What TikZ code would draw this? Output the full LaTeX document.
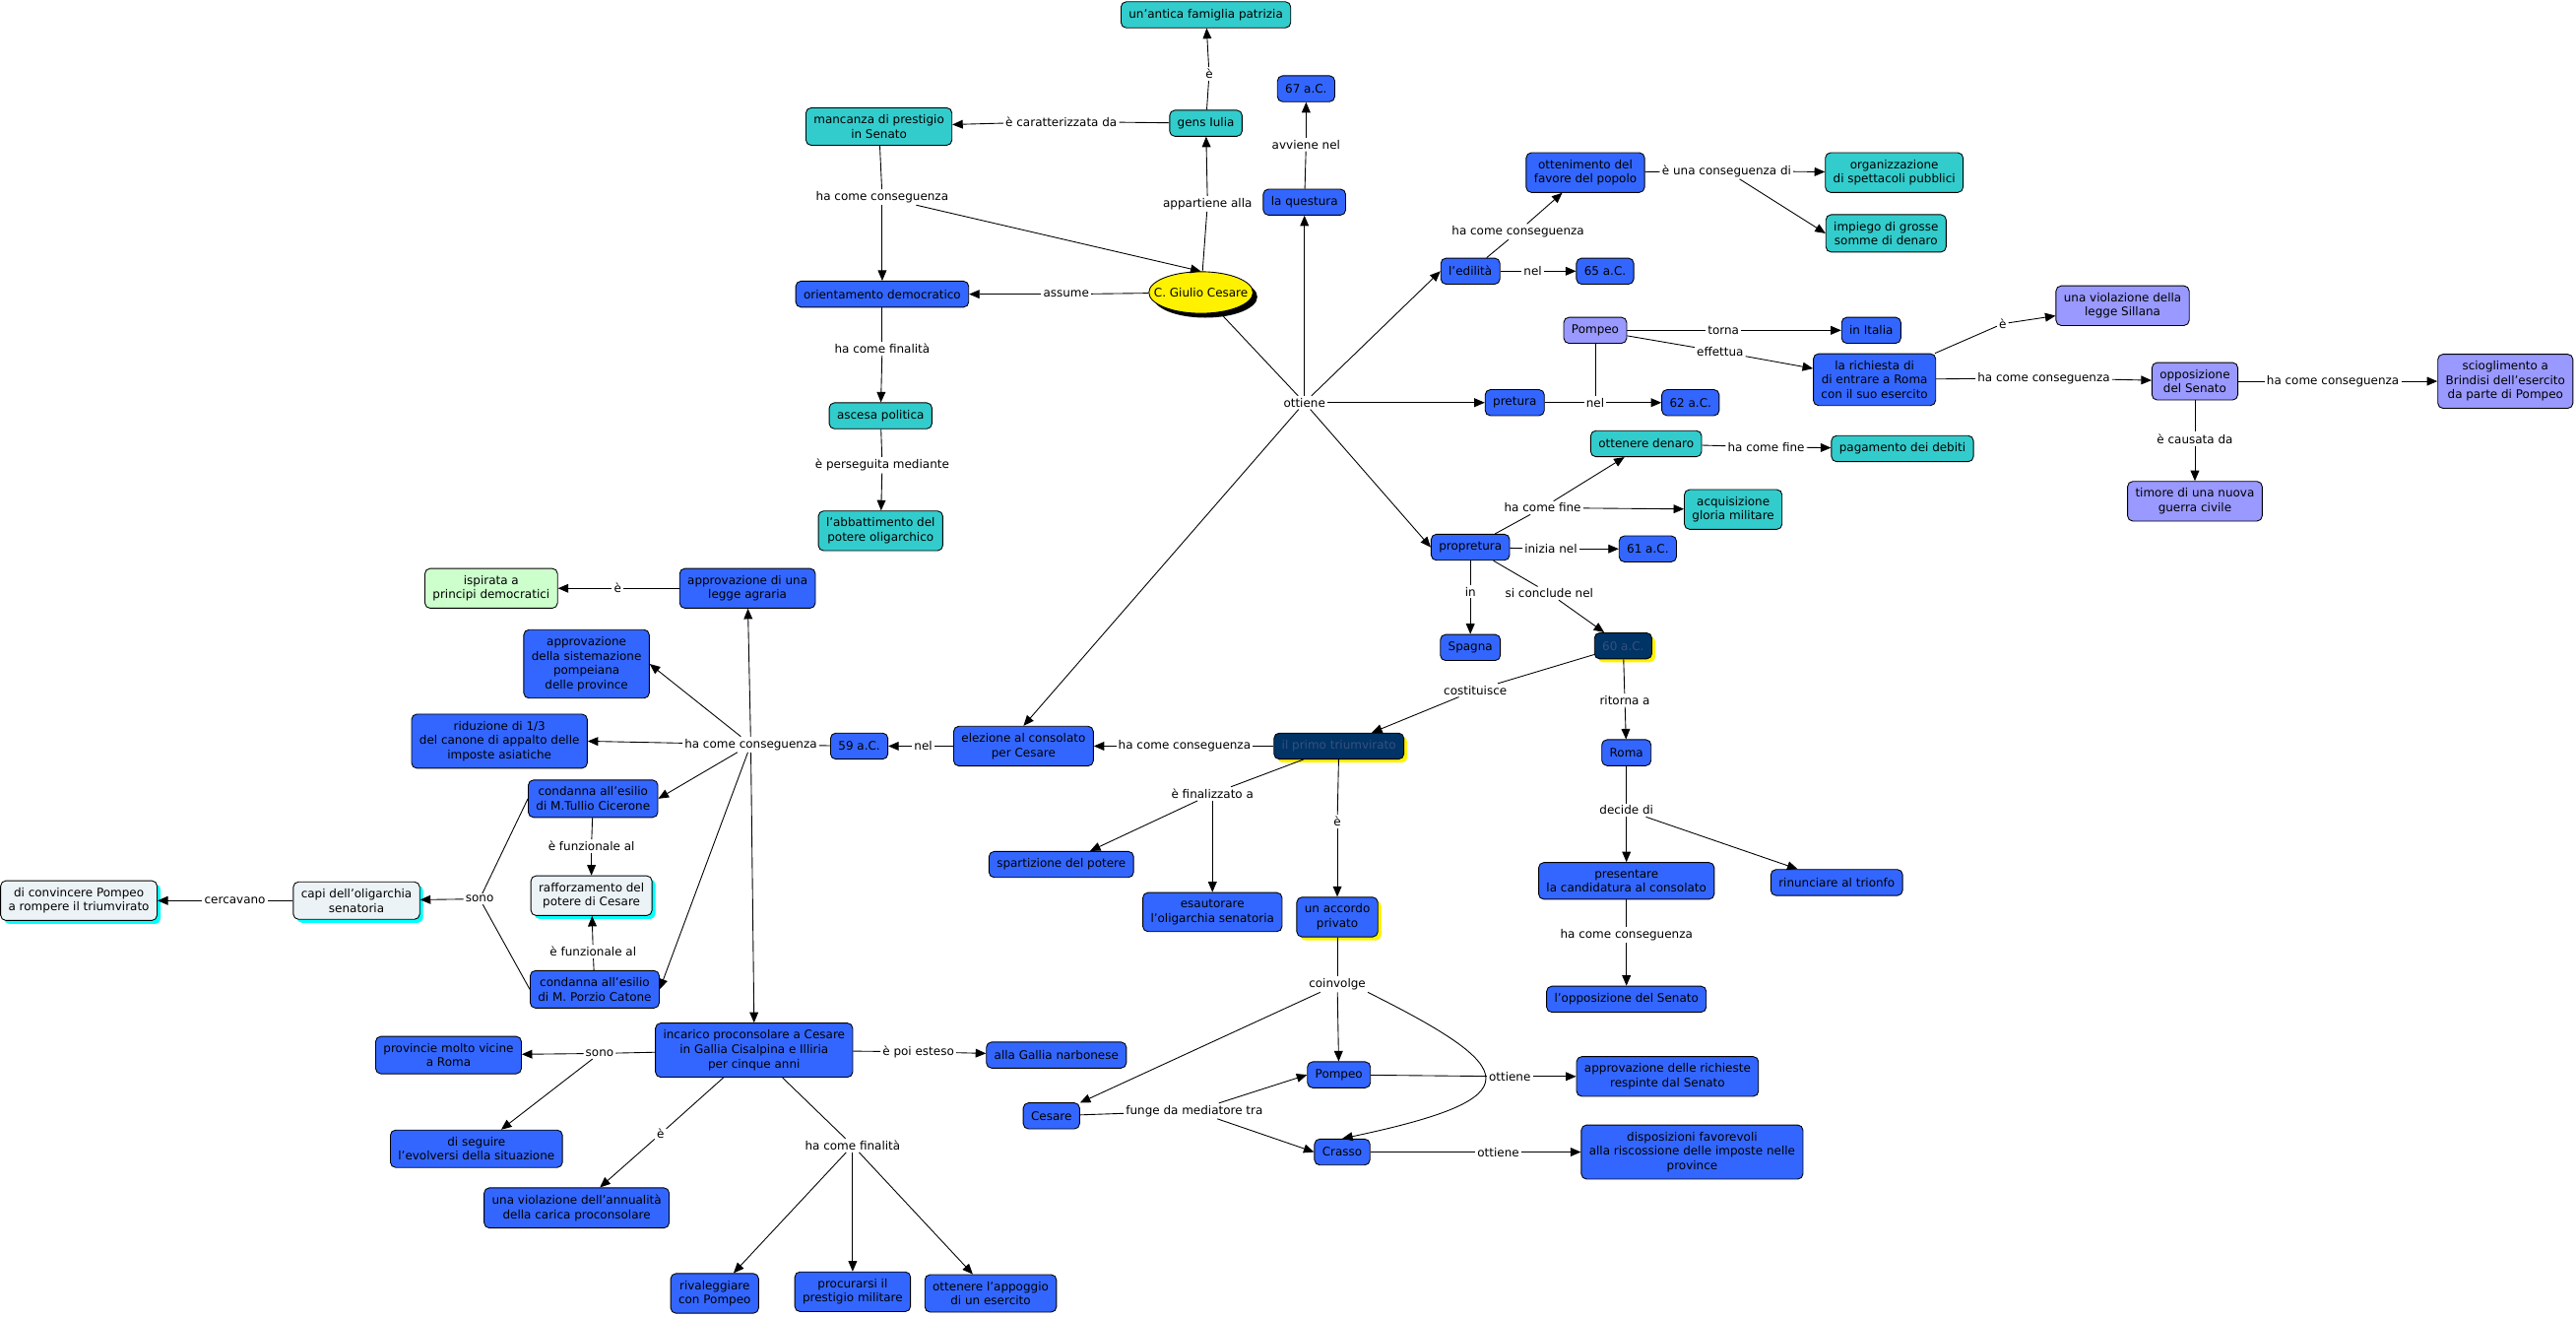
\documentclass[tikz,border=0pt]{standalone}
\usepackage{fontspec}
\setmainfont{DejaVu Sans}
\usepackage{tikz}
\usetikzlibrary{arrows.meta,shapes.geometric,shadows}
\definecolor{mapblue}{RGB}{51,102,255}
\definecolor{mapteal}{RGB}{51,204,204}
\definecolor{maplav}{RGB}{153,153,255}
\definecolor{mapnavy}{RGB}{0,51,102}
\definecolor{navytext}{RGB}{55,80,125}
\definecolor{mapgreen}{RGB}{204,255,204}
\definecolor{maplight}{RGB}{236,243,246}
\definecolor{mapcyan}{RGB}{0,255,255}
\newcommand{\mapfont}{\fontsize{6.8}{8.3}\selectfont}

\begin{document}
\begin{tikzpicture}[x=0.0333cm, y=-0.0333cm, line width=0.5pt,
  box/.style={rectangle, draw, rounded corners=3pt, align=center, font=\mapfont,
              inner xsep=4.5pt, inner ysep=4pt, minimum height=15pt},
  cb/.style={box, fill=mapblue},
  ct/.style={box, fill=mapteal},
  cl/.style={box, fill=maplav},
  cg/.style={box, fill=mapgreen},
  cw/.style={box, fill=maplight,
             drop shadow={shadow xshift=2pt, shadow yshift=-2pt, fill=mapcyan, opacity=1}},
  cn/.style={box, fill=mapnavy, text=navytext,
             drop shadow={shadow xshift=2pt, shadow yshift=-2pt, fill=yellow, opacity=1}},
  cy/.style={cb, drop shadow={shadow xshift=2pt, shadow yshift=-2pt, fill=yellow, opacity=1}},
  cesell/.style={ellipse, draw, fill=yellow, font=\mapfont, inner sep=0pt,
                 minimum width=60pt, minimum height=24pt,
                 drop shadow={shadow xshift=2.5pt, shadow yshift=-2.5pt, fill=black, opacity=1}},
  lbl/.style={fill=white, inner sep=1pt, font=\mapfont},
  arr/.style={-{Triangle[length=6pt, width=5pt]}}
]
\useasboundingbox (0,0) rectangle (1568,801);

% ── Cesare and his origins ───────────────────
\node[cesell] (cesare) at (731,178) {\makebox[0pt]{C. Giulio Cesare}};
\node[ct] (antica)   at (734,9)   {un'antica famiglia patrizia};
\node[ct] (gens)     at (734,75)  {gens Iulia};
\node[ct] (mancanza) at (535,77)  {mancanza di prestigio\\in Senato};
\node[cb] (orient)   at (537,179) {orientamento democratico};
\node[ct] (ascesa)   at (536,253) {ascesa politica};
\node[ct] (abbatt)   at (536,323) {l'abbattimento del\\potere oligarchico};

% ── cursus honorum ───────────────────────────
\node[cb] (a67)      at (795,54)   {67 a.C.};
\node[cb] (questura) at (794,123)  {la questura};
\node[cb] (edilita)  at (895,165)  {l'edilità};
\node[cb] (a65)      at (977,165)  {65 a.C.};
\node[cb] (favore)   at (965,105)  {ottenimento del\\favore del popolo};
\node[ct] (organizz) at (1153,105) {organizzazione\\di spettacoli pubblici};
\node[ct] (impiego)  at (1148,142) {impiego di grosse\\somme di denaro};
\node[cb] (pretura)  at (922,245)  {pretura};
\node[cb] (a62)      at (1029,245) {62 a.C.};
\node[cb] (propret)  at (895,333)  {propretura};
\node[cb] (a61)      at (1003,334) {61 a.C.};
\node[ct] (denaro)   at (1002,270) {ottenere denaro};
\node[ct] (debiti)   at (1158,273) {pagamento dei debiti};
\node[ct] (gloria)   at (1055,310) {acquisizione\\gloria militare};
\node[cb] (spagna)   at (895,394)  {Spagna};
\node[cn] (a60)      at (988,393)  {60 a.C.};
\node[cb] (roma)     at (990,458)  {Roma};
\node[cb] (candid)   at (990,536)  {presentare\\la candidatura al consolato};
\node[cb] (trionfo)  at (1118,537) {rinunciare al trionfo};
\node[cb] (oppsen)   at (990,608)  {l'opposizione del Senato};

% ── Pompeo ───────────────────────────────────
\node[cl] (pompeoA)  at (971,201)  {Pompeo};
\node[cb] (italia)   at (1139,201) {in Italia};
\node[cb] (richiesta) at (1141,231) {la richiesta di\\di entrare a Roma\\con il suo esercito};
\node[cl] (sillana)  at (1292,186) {una violazione della\\legge Sillana};
\node[cl] (opposiz)  at (1336,232) {opposizione\\del Senato};
\node[cl] (sciogl)   at (1525,232) {scioglimento  a\\Brindisi dell'esercito\\da parte di Pompeo};
\node[cl] (timore)   at (1336,305) {timore di una nuova\\guerra civile};

% ── triumvirato ──────────────────────────────
\node[cn] (triumv)   at (815,454)  {il primo triumvirato};
\node[cb] (elezione) at (623,454)  {elezione al consolato\\per Cesare};
\node[cb] (a59)      at (523,454)  {59 a.C.};
\node[cb] (spartiz)  at (646,526)  {spartizione del potere};
\node[cb] (esautor)  at (738,555)  {esautorare\\l'oligarchia senatoria};
\node[cy] (accordo)  at (814,558)  {un accordo\\privato};
\node[cb] (cesareB)  at (640,679)  {Cesare};
\node[cb] (pompeoB)  at (815,654)  {Pompeo};
\node[cb] (crasso)   at (817,701)  {Crasso};
\node[cb] (respinte) at (1015,655) {approvazione delle richieste\\respinte dal Senato};
\node[cb] (disposiz) at (1030,701) {disposizioni favorevoli\\alla riscossione delle imposte nelle\\province};

% ── consolato ────────────────────────────────
\node[cb] (agraria)  at (455,358)  {approvazione di una\\legge agraria};
\node[cg] (ispirata) at (299,358)  {ispirata a\\principi democratici};
\node[cb] (sistem)   at (357,404)  {approvazione\\della sistemazione\\pompeiana\\delle province};
\node[cb] (riduz)    at (304,451)  {riduzione di 1/3\\del canone di appalto delle\\imposte asiatiche};
\node[cb] (cicerone) at (361,486)  {condanna all'esilio\\di M.Tullio Cicerone};
\node[cw] (rafforz)  at (360,545)  {rafforzamento del\\potere di Cesare};
\node[cb] (catone)   at (362,602)  {condanna all'esilio\\di M. Porzio Catone};
\node[cw] (capi)     at (217,548)  {capi dell'oligarchia\\senatoria};
\node[cw] (convinc)  at (48,548)   {di convincere Pompeo\\a rompere il triumvirato};
\node[cb] (incarico) at (459,639)  {incarico proconsolare a Cesare\\in Gallia Cisalpina e Illiria\\per  cinque anni};
\node[cb] (narbon)   at (643,642)  {alla Gallia narbonese};
\node[cb] (vicine)   at (273,642)  {provincie molto vicine\\a Roma};
\node[cb] (seguire)  at (290,699)  {di seguire\\l'evolversi della situazione};
\node[cb] (annual)   at (351,735)  {una violazione dell'annualità\\della carica proconsolare};
\node[cb] (rivaleg)  at (435,787)  {rivaleggiare\\con Pompeo};
\node[cb] (procur)   at (519,786)  {procurarsi il\\prestigio militare};
\node[cb] (appoggio) at (603,787)  {ottenere l'appoggio\\di un esercito};

% ── links: Cesare ────────────────────────────
\node[lbl] (lE1) at (736,45) {è};
\draw (gens) -- (lE1); \draw[arr] (lE1) -- (antica);
\node[lbl] (lCar) at (646,74) {è caratterizzata da};
\draw (gens) -- (lCar); \draw[arr] (lCar) -- (mancanza);
\node[lbl] (lApp) at (735,124) {appartiene alla};
\draw (cesare) -- (lApp); \draw[arr] (lApp) -- (gens);
\node[lbl] (lHcc1) at (537,120) {ha come conseguenza};
\draw (mancanza) -- (lHcc1);
\draw[arr] (lHcc1) -- (orient);
\draw[arr] (lHcc1) -- (cesare.north);
\node[lbl] (lAss) at (649,179) {assume};
\draw (cesare) -- (lAss); \draw[arr] (lAss) -- (orient);
\node[lbl] (lFin1) at (537,212) {ha come finalità};
\draw (orient) -- (lFin1); \draw[arr] (lFin1) -- (ascesa);
\node[lbl] (lPers) at (537,283) {è perseguita mediante};
\draw (ascesa) -- (lPers); \draw[arr] (lPers) -- (abbatt);

% ── links: ottiene ───────────────────────────
\node[lbl] (lOtt) at (794,245) {ottiene};
\draw (cesare) -- (lOtt);
\foreach \t in {questura, edilita.west, pretura, propret.west, elezione.north}
  \draw[arr] (lOtt) -- (\t);
\node[lbl] (lAvv) at (795,88) {avviene nel};
\draw (questura) -- (lAvv); \draw[arr] (lAvv) -- (a67);
\node[lbl] (lNel1) at (933,165) {nel};
\draw (edilita) -- (lNel1); \draw[arr] (lNel1) -- (a65);
\node[lbl] (lHcc2) at (924,141) {ha come conseguenza};
\draw (edilita) -- (lHcc2); \draw[arr] (lHcc2) -- (favore);
\node[lbl] (lCons) at (1051,104) {è una conseguenza di};
\draw (favore) -- (lCons);
\draw[arr] (lCons) -- (organizz);
\draw[arr] (lCons) -- (impiego.west);
\node[lbl] (lNel2) at (971,245) {nel};
\draw (pretura) -- (lNel2); \draw (pompeoA) -- (lNel2);
\draw[arr] (lNel2) -- (a62);

% ── links: Pompeo ────────────────────────────
\node[lbl] (lTorna) at (1049,201) {torna};
\draw (pompeoA) -- (lTorna); \draw[arr] (lTorna) -- (italia);
\node[lbl] (lEff) at (1047,214) {effettua};
\draw (pompeoA) -- (lEff); \draw[arr] (lEff) -- (richiesta);
\node[lbl] (lE2) at (1219,197) {è};
\draw (richiesta) -- (lE2); \draw[arr] (lE2) -- (sillana);
\node[lbl] (lHcc3) at (1244,230) {ha come conseguenza};
\draw (richiesta) -- (lHcc3); \draw[arr] (lHcc3) -- (opposiz);
\node[lbl] (lHcc4) at (1420,232) {ha come conseguenza};
\draw (opposiz) -- (lHcc4); \draw[arr] (lHcc4) -- (sciogl);
\node[lbl] (lCaus) at (1336,267) {è causata da};
\draw (opposiz) -- (lCaus); \draw[arr] (lCaus) -- (timore);

% ── links: propretura ────────────────────────
\node[lbl] (lFine1) at (1075,272) {ha come fine};
\draw (denaro) -- (lFine1); \draw[arr] (lFine1) -- (debiti);
\node[lbl] (lFine2) at (939,309) {ha come fine};
\draw (propret) -- (lFine2);
\draw[arr] (lFine2) -- (denaro);
\draw[arr] (lFine2) -- (gloria);
\node[lbl] (lIniz) at (944,334) {inizia nel};
\draw (propret) -- (lIniz); \draw[arr] (lIniz) -- (a61);
\node[lbl] (lIn) at (895,360) {in};
\draw (propret) -- (lIn); \draw[arr] (lIn) -- (spagna);
\node[lbl] (lConcl) at (943,361) {si conclude nel};
\draw (propret) -- (lConcl); \draw[arr] (lConcl) -- (a60);
\node[lbl] (lCost) at (898,420) {costituisce};
\draw (a60) -- (lCost); \draw[arr] (lCost) -- (triumv);
\node[lbl] (lRit) at (989,426) {ritorna a};
\draw (a60) -- (lRit); \draw[arr] (lRit) -- (roma);
\node[lbl] (lDec) at (990,493) {decide di};
\draw (roma) -- (lDec);
\draw[arr] (lDec) -- (candid);
\draw[arr] (lDec) -- (trionfo);
\node[lbl] (lHcc5) at (990,569) {ha come conseguenza};
\draw (candid) -- (lHcc5); \draw[arr] (lHcc5) -- (oppsen);

% ── links: triumvirato ───────────────────────
\node[lbl] (lHcc6) at (721,454) {ha come conseguenza};
\draw (triumv) -- (lHcc6); \draw[arr] (lHcc6) -- (elezione);
\node[lbl] (lFinz) at (738,483) {è finalizzato a};
\draw (triumv) -- (lFinz);
\draw[arr] (lFinz) -- (spartiz);
\draw[arr] (lFinz) -- (esautor);
\node[lbl] (lE3) at (814,500) {è};
\draw (triumv) -- (lE3); \draw[arr] (lE3) -- (accordo);
\node[lbl] (lCoinv) at (814,599) {coinvolge};
\draw (accordo) -- (lCoinv);
\draw[arr] (lCoinv) -- (cesareB);
\draw[arr] (lCoinv) -- (pompeoB);
\draw[arr] (lCoinv.south east) .. controls (925,650) and (935,668) .. (crasso.north);
\node[lbl] (lMed) at (727,676) {funge da mediatore tra};
\draw (cesareB) -- (lMed);
\draw[arr] (lMed) -- (pompeoB.west);
\draw[arr] (lMed) -- (crasso.west);
\node[lbl] (lOtt2) at (919,655) {ottiene};
\draw (pompeoB) -- (lOtt2); \draw[arr] (lOtt2) -- (respinte);
\node[lbl] (lOtt3) at (912,701) {ottiene};
\draw (crasso) -- (lOtt3); \draw[arr] (lOtt3) -- (disposiz);

% ── links: consolato ─────────────────────────
\node[lbl] (lNel3) at (562,454) {nel};
\draw (elezione) -- (lNel3); \draw[arr] (lNel3) -- (a59);
\node[lbl] (lHcc7) at (457,453) {ha come conseguenza};
\draw (a59) -- (lHcc7);
\foreach \t in {agraria, sistem.east, riduz.east, cicerone.east, catone.east, incarico.north}
  \draw[arr] (lHcc7) -- (\t);
\node[lbl] (lE4) at (376,358) {è};
\draw (agraria) -- (lE4); \draw[arr] (lE4) -- (ispirata);
\node[lbl] (lFunz1) at (360,515) {è funzionale al};
\draw (cicerone) -- (lFunz1); \draw[arr] (lFunz1) -- (rafforz);
\node[lbl] (lFunz2) at (361,579) {è funzionale al};
\draw (catone) -- (lFunz2); \draw[arr] (lFunz2) -- (rafforz);
\node[lbl] (lSono1) at (292,547) {sono};
\draw (cicerone.west) -- (lSono1); \draw (catone.west) -- (lSono1);
\draw[arr] (lSono1) -- (capi);
\node[lbl] (lCerc) at (143,548) {cercavano};
\draw (capi) -- (lCerc); \draw[arr] (lCerc) -- (convinc);

% ── links: incarico ──────────────────────────
\node[lbl] (lEst) at (559,640) {è poi esteso};
\draw (incarico) -- (lEst); \draw[arr] (lEst) -- (narbon);
\node[lbl] (lSono2) at (365,641) {sono};
\draw (incarico) -- (lSono2);
\draw[arr] (lSono2) -- (vicine);
\draw[arr] (lSono2) -- (seguire);
\node[lbl] (lE5) at (402,690) {è};
\draw (incarico) -- (lE5); \draw[arr] (lE5) -- (annual);
\node[lbl] (lFin2) at (519,697) {ha come finalità};
\draw (incarico) -- (lFin2);
\foreach \t in {rivaleg, procur, appoggio}
  \draw[arr] (lFin2) -- (\t);

\end{tikzpicture}
\end{document}
